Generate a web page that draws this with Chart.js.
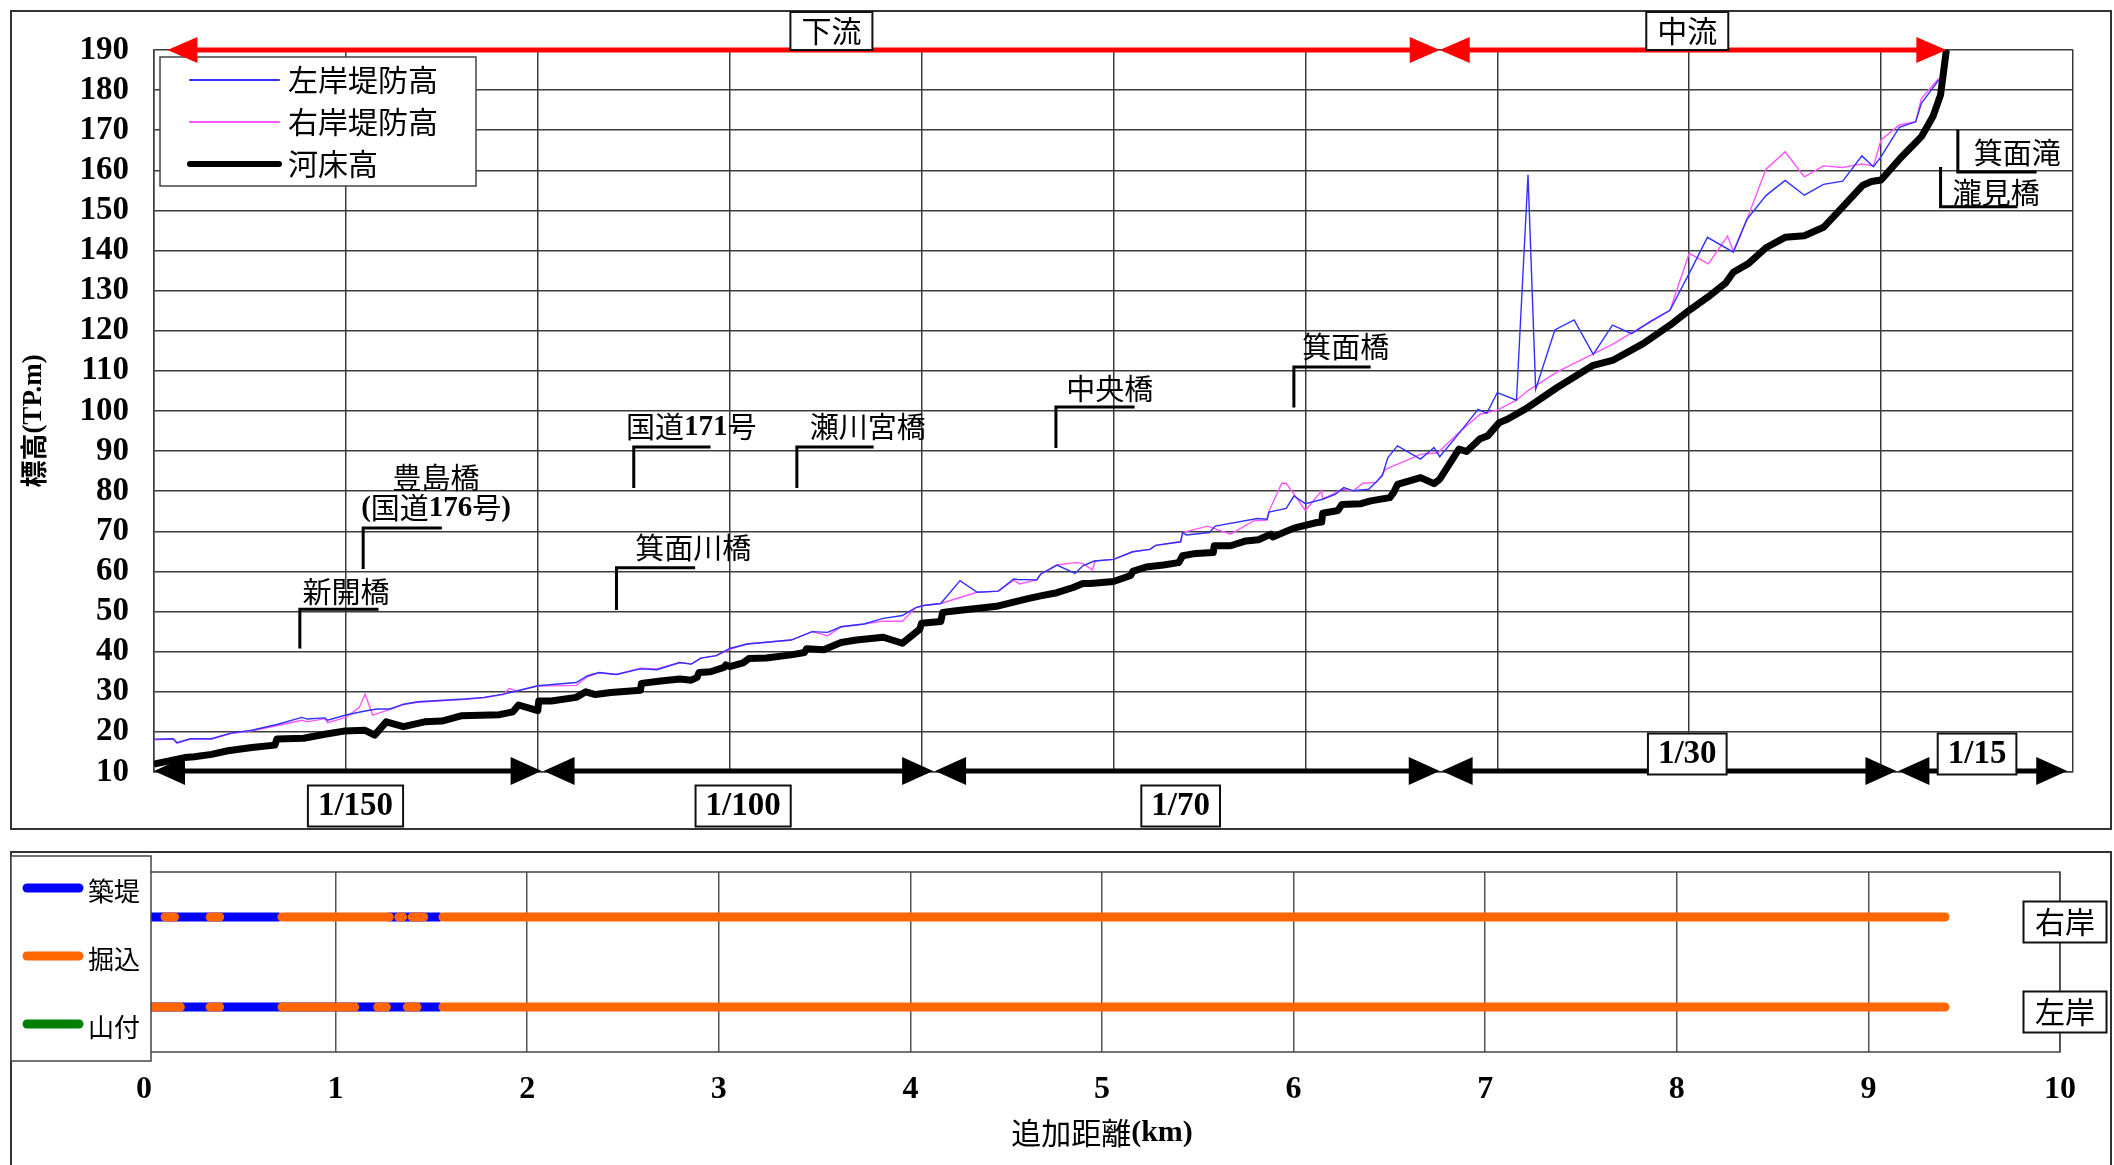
<!DOCTYPE html>
<html lang="ja">
<head>
<meta charset="utf-8">
<title>縦断図</title>
<script src="https://cdn.jsdelivr.net/npm/chart.js@4.4.1/dist/chart.umd.min.js"></script>
<style>
    html, body { margin: 0; padding: 0; background: #fff; }
    #wrap { position: relative; width: 2114px; height: 1165px; overflow: hidden; }
    canvas { position: absolute; left: 0; }
    #profileChart { top: 0; }
    #bankChart { top: 840px; }
</style>
</head>
<body>
<div id="wrap">
    <canvas id="profileChart" width="2114" height="840"></canvas>
    <canvas id="bankChart" width="2114" height="325"></canvas>
</div>
<script>
// ---- data: [distance km, elevation TP.m] ----
const bedProfile = [
    [0, 12.0], [0.16, 13.6], [0.21, 13.8], [0.30, 14.4], [0.385, 15.3], [0.51, 16.1], [0.63, 16.7], [0.64, 18.2],
    [0.78, 18.4], [0.89, 19.4], [0.99, 20.2], [1.10, 20.4], [1.15, 19.2], [1.21, 22.5], [1.30, 21.3], [1.41, 22.5],
    [1.50, 22.7], [1.60, 24.0], [1.80, 24.3], [1.87, 25.0], [1.90, 26.7], [2.00, 25.3], [2.005, 27.7], [2.07, 27.7],
    [2.20, 28.6], [2.25, 30.0], [2.30, 29.3], [2.38, 29.8], [2.535, 30.4], [2.54, 32.1], [2.64, 32.7], [2.74, 33.2],
    [2.80, 32.9], [2.83, 33.6], [2.84, 34.8], [2.90, 35.0], [2.97, 36.1], [2.98, 36.7], [3.00, 36.3], [3.07, 37.2],
    [3.10, 38.3], [3.19, 38.4], [3.32, 39.2], [3.39, 39.8], [3.40, 40.7], [3.49, 40.5], [3.58, 42.3], [3.66, 42.9],
    [3.80, 43.6], [3.90, 42.1], [3.99, 45.6], [4.00, 47.1], [4.10, 47.5], [4.11, 49.8], [4.18, 50.2], [4.39, 51.3],
    [4.49, 52.5], [4.56, 53.3], [4.62, 53.9], [4.705, 54.7], [4.79, 56.0], [4.84, 57.0], [4.88, 57.0], [5.00, 57.5],
    [5.09, 59.0], [5.10, 60.0], [5.17, 61.1], [5.26, 61.6], [5.34, 62.2], [5.36, 63.9], [5.43, 64.5], [5.52, 64.7],
    [5.525, 66.4], [5.61, 66.4], [5.69, 67.6], [5.755, 67.9], [5.82, 69.3], [5.83, 68.6], [5.94, 70.8], [6.06, 72.2],
    [6.085, 72.3], [6.09, 74.5], [6.17, 75.2], [6.19, 76.7], [6.29, 76.9], [6.34, 77.6], [6.44, 78.4], [6.46, 79.7],
    [6.48, 81.7], [6.60, 83.4], [6.67, 81.9], [6.70, 83.0], [6.80, 90.5], [6.84, 89.9], [6.91, 93.1], [6.95, 93.8],
    [7.01, 97.1], [7.05, 97.9], [7.15, 100.6], [7.31, 105.8], [7.50, 111.4], [7.60, 112.6], [7.76, 116.8], [7.90, 121.4],
    [8.00, 125.1], [8.10, 128.5], [8.19, 131.9], [8.23, 134.6], [8.31, 136.8], [8.40, 140.7], [8.50, 143.3], [8.60, 143.7],
    [8.70, 145.8], [8.80, 150.9], [8.905, 156.3], [8.95, 157.2], [9.00, 157.6], [9.10, 163.0], [9.21, 168.4], [9.27, 173.4],
    [9.31, 178.8], [9.34, 190.0]
];

const leftLevee = [
    [0, 18.2], [0.10, 18.3], [0.12, 17.3], [0.19, 18.3], [0.30, 18.3], [0.40, 19.7], [0.51, 20.4], [0.645, 21.9],
    [0.77, 23.6], [0.80, 23.2], [0.89, 23.5], [0.905, 22.9], [1.00, 24.2], [1.10, 25.2], [1.16, 25.7], [1.23, 25.7],
    [1.30, 26.9], [1.375, 27.5], [1.62, 28.2], [1.72, 28.6], [1.82, 29.4], [1.89, 30.2], [2.00, 31.5], [2.20, 32.3],
    [2.26, 34.0], [2.32, 34.8], [2.41, 34.3], [2.535, 35.7], [2.62, 35.5], [2.74, 37.3], [2.80, 36.9], [2.85, 38.4],
    [2.93, 39.0], [3.00, 40.8], [3.09, 41.9], [3.32, 42.9], [3.43, 45.0], [3.51, 44.8], [3.58, 46.2], [3.70, 46.9],
    [3.80, 48.3], [3.90, 49.0], [3.97, 51.0], [4.01, 51.5], [4.10, 52.0], [4.20, 57.7], [4.29, 54.8], [4.40, 55.1],
    [4.48, 58.1], [4.50, 58.0], [4.60, 57.9], [4.62, 59.3], [4.705, 61.6], [4.80, 59.5], [4.84, 61.4], [4.90, 62.6],
    [5.00, 63.0], [5.10, 64.9], [5.19, 65.5], [5.22, 66.5], [5.35, 67.4], [5.36, 69.7], [5.38, 69.1], [5.50, 69.7],
    [5.53, 71.3], [5.75, 73.2], [5.80, 73.0], [5.81, 74.8], [5.90, 75.7], [5.94, 78.8], [6.00, 76.9], [6.09, 78.0],
    [6.155, 79.2], [6.20, 80.9], [6.25, 80.1], [6.33, 80.5], [6.40, 83.8], [6.43, 88.4], [6.48, 91.3], [6.60, 88.0],
    [6.67, 90.9], [6.70, 88.6], [6.79, 93.8], [6.90, 100.4], [6.945, 99.4], [7.00, 104.6], [7.10, 102.7], [7.16, 158.9],
    [7.20, 105.4], [7.30, 120.2], [7.40, 122.7], [7.50, 114.1], [7.60, 121.4], [7.70, 119.3], [7.80, 122.4], [7.90, 125.1],
    [8.00, 134.3], [8.095, 143.3], [8.23, 139.6], [8.30, 147.7], [8.40, 153.7], [8.50, 157.5], [8.60, 153.8], [8.70, 156.5],
    [8.80, 157.3], [8.90, 163.6], [8.96, 160.9], [9.00, 163.4], [9.095, 170.7], [9.18, 172.1], [9.21, 176.7], [9.30, 182.5]
];

const rightLevee = [
    [0, 18.0], [0.10, 18.2], [0.12, 17.2], [0.19, 18.2], [0.30, 18.2], [0.40, 19.6], [0.51, 20.3], [0.645, 21.6],
    [0.77, 22.9], [0.80, 22.5], [0.89, 23.3], [0.905, 22.3], [1.00, 23.6], [1.07, 26.1], [1.10, 29.4], [1.14, 24.2],
    [1.23, 25.6], [1.30, 26.8], [1.375, 27.4], [1.62, 28.1], [1.72, 28.5], [1.82, 29.3], [1.85, 30.8], [1.89, 30.2],
    [2.00, 31.4], [2.20, 31.6], [2.26, 33.8], [2.32, 34.7], [2.41, 34.3], [2.535, 35.9], [2.62, 35.7], [2.74, 37.3],
    [2.80, 36.9], [2.85, 38.4], [2.93, 39.0], [3.00, 40.6], [3.09, 41.9], [3.32, 42.9], [3.43, 45.0], [3.51, 44.0],
    [3.58, 46.2], [3.70, 46.9], [3.80, 47.6], [3.90, 47.6], [3.97, 51.0], [4.01, 51.5], [4.10, 52.0], [4.20, 53.5],
    [4.29, 54.8], [4.40, 55.1], [4.48, 57.8], [4.51, 56.9], [4.60, 57.9], [4.62, 59.3], [4.705, 61.6], [4.80, 62.2],
    [4.84, 62.0], [4.89, 60.4], [4.905, 62.6], [5.00, 63.0], [5.10, 64.9], [5.19, 65.5], [5.22, 66.5], [5.35, 67.4],
    [5.36, 69.7], [5.49, 71.3], [5.61, 69.3], [5.73, 72.6], [5.80, 72.8], [5.81, 75.0], [5.877, 82.0], [5.90, 82.0],
    [6.00, 75.2], [6.085, 80.1], [6.09, 78.0], [6.14, 79.2], [6.19, 80.5], [6.25, 80.1], [6.30, 82.0], [6.37, 82.2],
    [6.42, 85.5], [6.46, 86.3], [6.60, 89.2], [6.69, 89.6], [6.79, 94.2], [6.91, 99.2], [7.00, 100.2], [7.10, 102.7],
    [7.16, 105.1], [7.31, 109.7], [7.40, 111.9], [7.60, 116.6], [7.71, 119.8], [7.80, 122.2], [7.90, 125.1], [8.00, 139.3],
    [8.10, 136.7], [8.20, 143.6], [8.23, 139.8], [8.30, 147.7], [8.40, 160.3], [8.50, 164.6], [8.60, 158.4], [8.70, 161.1],
    [8.80, 160.7], [8.90, 161.6], [8.96, 161.1], [9.00, 167.6], [9.095, 171.3], [9.18, 172.1], [9.21, 177.9], [9.30, 182.9]
];

// reach sections (red arrows at top)
const reachNames = ['下流', '中流'];
const reachFrom = [0.07, 6.70];
const reachTo = [6.70, 9.34];
const reachLabelAt = [3.53, 7.99];

// bed slope sections (black arrows at bottom)
const slopeNames = ['1/150', '1/100', '1/70', '1/30', '1/15'];
const slopeFrom = [0, 2.03, 4.07, 6.71, 9.09];
const slopeTo = [2.02, 4.06, 6.70, 9.08, 9.97];
const slopeLabelAt = [1.05, 3.07, 5.35, 7.99, 9.50];
const slopeLabelAbove = [false, false, false, true, true];

// bridges: [name, km, elevation]  leaders: [km, from elev, to elev, end km]
const bridgeLabels = [
    ['新開橋', 1.00, 55.0], ['豊島橋', 1.47, 83.4], ['(国道176号)', 1.47, 75.7], ['箕面川橋', 2.81, 65.8],
    ['国道171号', 2.80, 96.0], ['瀬川宮橋', 3.72, 96.0], ['中央橋', 4.98, 105.6], ['箕面橋', 6.21, 116.0],
    ['箕面滝', 9.71, 164.3], ['瀧見橋', 9.60, 154.4]
];
const bridgeLeaders = [
    [0.76, 40.8, 50.6, 1.17], [1.09, 60.6, 70.8, 1.50], [2.41, 50.4, 60.9, 2.82], [2.50, 80.8, 91.0, 2.90],
    [3.35, 80.8, 91.0, 3.75], [4.70, 90.8, 101.0, 5.11], [5.94, 100.9, 111.0, 6.34], [9.40, 170.1, 159.6, 9.81],
    [9.31, 160.8, 150.9, 9.71]
];

// bank type segments [from km, to km]
const rightEmbank = [[0, 0.70], [1.28, 1.54]];
const rightDug = [[0.11, 0.16], [0.345, 0.395], [0.72, 1.28], [1.33, 1.35], [1.40, 1.46], [1.56, 9.40]];
const leftEmbank = [[0, 1.54]];
const leftDug = [[0, 0.19], [0.345, 0.395], [0.72, 1.10], [1.22, 1.265], [1.375, 1.425], [1.56, 9.40]];
const hillside = [];

const bankRows = ['右岸', '左岸'];
const bankRowValue = [3, 1];

const GRID = '#3c3c3c';
const SERIF = '"Liberation Serif", serif';
const JP = '"Noto Sans CJK JP", sans-serif';

// text with latin parts in bold serif and kanji in gothic
function drawMixed(ctx, text, x, y, size, align, cjkBold) {
    const runs = text.match(/[\x20-\x7e]+|[^\x20-\x7e]+/g) || [];
    const fontFor = r => /[\x20-\x7e]/.test(r[0])
        ? `bold ${size}px ${SERIF}`
        : `${cjkBold ? 'bold ' : ''}${size}px ${JP}`;
    let total = 0;
    const widths = runs.map(r => {
        ctx.font = fontFor(r);
        const w = ctx.measureText(r).width;
        total += w;
        return w;
    });
    let cx = align === 'left' ? x : (align === 'right' ? x - total : x - total / 2);
    ctx.textAlign = 'left';
    ctx.textBaseline = 'middle';
    runs.forEach((r, i) => {
        ctx.font = fontFor(r);
        ctx.fillText(r, cx, y);
        cx += widths[i];
    });
    return total;
}

function boxedText(ctx, text, cx, cy, w, h, size) {
    ctx.fillStyle = '#fff';
    ctx.fillRect(cx - w / 2, cy - h / 2, w, h);
    ctx.strokeStyle = '#111';
    ctx.lineWidth = 2;
    ctx.strokeRect(cx - w / 2, cy - h / 2, w, h);
    ctx.fillStyle = '#000';
    drawMixed(ctx, text, cx, cy, size, 'center');
}

function arrowLine(ctx, x1, x2, y, color, width, len, half) {
    ctx.strokeStyle = color;
    ctx.fillStyle = color;
    ctx.lineWidth = width;
    ctx.beginPath();
    ctx.moveTo(x1 + len - 2, y);
    ctx.lineTo(x2 - len + 2, y);
    ctx.stroke();
    ctx.beginPath();
    ctx.moveTo(x1, y);
    ctx.lineTo(x1 + len, y - half);
    ctx.lineTo(x1 + len, y + half);
    ctx.closePath();
    ctx.fill();
    ctx.beginPath();
    ctx.moveTo(x2, y);
    ctx.lineTo(x2 - len, y - half);
    ctx.lineTo(x2 - len, y + half);
    ctx.closePath();
    ctx.fill();
}

const profileDecor = {
    id: 'profileDecor',
    afterDraw(chart) {
        const { ctx, chartArea: area, scales: { x, y } } = chart;
        ctx.save();

        // outer frame
        ctx.strokeStyle = '#333';
        ctx.lineWidth = 2;
        ctx.strokeRect(11, 11, 2100, 818);

        // legend
        const lx = area.left + 6, ly = area.top + 7;
        ctx.fillStyle = '#fff';
        ctx.fillRect(lx, ly, 316, 129);
        ctx.strokeStyle = '#444';
        ctx.lineWidth = 1.5;
        ctx.strokeRect(lx, ly, 316, 129);
        const legendOrder = [1, 2, 0];
        legendOrder.forEach((di, i) => {
            const ds = chart.data.datasets[di];
            const ry = ly + 23 + i * 42;
            ctx.strokeStyle = ds.borderColor;
            ctx.lineWidth = di === 0 ? 6 : 2;
            ctx.lineCap = 'round';
            ctx.beginPath();
            ctx.moveTo(lx + 30, ry);
            ctx.lineTo(lx + 119, ry);
            ctx.stroke();
            ctx.fillStyle = '#000';
            drawMixed(ctx, ds.label, lx + 128, ry, 30, 'left');
        });
        ctx.lineCap = 'butt';

        // reach arrows
        const ry = y.getPixelForValue(190);
        reachNames.forEach((name, i) => {
            arrowLine(ctx, x.getPixelForValue(reachFrom[i]), x.getPixelForValue(reachTo[i]), ry, '#ff0000', 5, 30, 13);
        });
        reachNames.forEach((name, i) => {
            boxedText(ctx, name, x.getPixelForValue(reachLabelAt[i]), ry - 19, 82, 38, 30);
        });

        // slope arrows
        const sy = y.getPixelForValue(10) - 1;
        slopeNames.forEach((name, i) => {
            arrowLine(ctx, x.getPixelForValue(slopeFrom[i]), x.getPixelForValue(slopeTo[i]), sy, '#000', 5, 31, 14);
        });
        slopeNames.forEach((name, i) => {
            ctx.font = `bold 33px ${SERIF}`;
            const w = ctx.measureText(name).width + 20;
            const cy = slopeLabelAbove[i] ? sy - 17 : sy + 35;
            boxedText(ctx, name, x.getPixelForValue(slopeLabelAt[i]), cy, w, 41, 33);
        });

        // bridge leaders and names
        ctx.strokeStyle = '#000';
        ctx.lineWidth = 3;
        bridgeLeaders.forEach(([km, from, to, end]) => {
            ctx.beginPath();
            ctx.moveTo(x.getPixelForValue(km), y.getPixelForValue(from));
            ctx.lineTo(x.getPixelForValue(km), y.getPixelForValue(to));
            ctx.lineTo(x.getPixelForValue(end), y.getPixelForValue(to));
            ctx.stroke();
        });
        ctx.fillStyle = '#000';
        bridgeLabels.forEach(([name, km, elev]) => {
            drawMixed(ctx, name, x.getPixelForValue(km), y.getPixelForValue(elev), 29, 'center');
        });

        // y title
        ctx.translate(34, (area.top + area.bottom) / 2 + 10);
        ctx.rotate(-Math.PI / 2);
        drawMixed(ctx, '標高(TP.m)', 0, 0, 27, 'center', true);
        ctx.restore();
    }
};

const toPoints = arr => arr.map(([km, v]) => ({ x: km, y: v }));

new Chart(document.getElementById('profileChart'), {
    type: 'line',
    data: {
        datasets: [
            { label: '河床高', data: toPoints(bedProfile), borderColor: '#000', borderWidth: 7, order: 0, borderJoinStyle: 'round' },
            { label: '左岸堤防高', data: toPoints(leftLevee), borderColor: '#3030ff', borderWidth: 1.4, order: 1 },
            { label: '右岸堤防高', data: toPoints(rightLevee), borderColor: '#ff55ff', borderWidth: 1.4, order: 2 }
        ]
    },
    options: {
        responsive: false,
        animation: false,
        events: [],
        layout: { padding: { top: 50, right: 41, bottom: 68, left: 0 } },
        elements: { point: { radius: 0 }, line: { tension: 0 } },
        plugins: { legend: { display: false }, tooltip: { enabled: false } },
        scales: {
            x: {
                type: 'linear', min: 0, max: 10,
                ticks: { display: false, stepSize: 1 },
                grid: { color: GRID, lineWidth: 1.5, drawTicks: false },
                border: { color: GRID, width: 1.5 },
                afterFit: s => { s.height = 0; }
            },
            y: {
                type: 'linear', min: 10, max: 190,
                ticks: {
                    stepSize: 10, autoSkip: false, padding: 25, color: '#000',
                    font: { family: SERIF, size: 33, weight: 'bold' }
                },
                grid: { color: GRID, lineWidth: 1.5, drawTicks: false },
                border: { color: GRID, width: 1.5 },
                afterFit: s => { s.width = 154; }
            }
        }
    },
    plugins: [profileDecor]
});

// ---- bank type chart ----
function segmentPoints(segs, row) {
    const pts = [];
    segs.forEach(([a, b]) => {
        pts.push({ x: a, y: row }, { x: b, y: row }, { x: b, y: null });
    });
    return pts;
}

const BLUE = '#0000ff', ORANGE = '#ff6600', GREEN = '#008000';

const bankDecor = {
    id: 'bankDecor',
    afterDraw(chart) {
        const { ctx, chartArea: area, scales: { x, y } } = chart;
        ctx.save();

        // plot border
        ctx.strokeStyle = '#444';
        ctx.lineWidth = 1.5;
        ctx.strokeRect(area.left, area.top, area.right - area.left, area.bottom - area.top);

        // frame
        ctx.strokeStyle = '#333';
        ctx.lineWidth = 2;
        ctx.beginPath();
        ctx.moveTo(11, 400);
        ctx.lineTo(11, 12);
        ctx.lineTo(2111, 12);
        ctx.lineTo(2111, 400);
        ctx.stroke();

        // legend
        ctx.fillStyle = '#fff';
        ctx.fillRect(11, 16, 140, 205);
        ctx.strokeStyle = '#444';
        ctx.lineWidth = 1.5;
        ctx.strokeRect(11, 16, 140, 205);
        const items = [['築堤', BLUE], ['掘込', ORANGE], ['山付', GREEN]];
        items.forEach(([name, color], i) => {
            const ly = 48 + i * 68;
            ctx.strokeStyle = color;
            ctx.lineWidth = 9;
            ctx.lineCap = 'round';
            ctx.beginPath();
            ctx.moveTo(27, ly);
            ctx.lineTo(79, ly);
            ctx.stroke();
            ctx.fillStyle = '#000';
            drawMixed(ctx, name, 88, ly + 3, 26, 'left');
        });
        ctx.lineCap = 'butt';

        // bank name boxes
        bankRows.forEach((name, i) => {
            boxedText(ctx, name, area.right + 5, y.getPixelForValue(bankRowValue[i]) + 5, 83, 41, 30);
        });

        // x title
        ctx.fillStyle = '#000';
        drawMixed(ctx, '追加距離(km)', (area.left + area.right) / 2, 293, 30, 'center');
        ctx.restore();
    }
};

new Chart(document.getElementById('bankChart'), {
    type: 'line',
    data: {
        datasets: [
            { label: '掘込', data: segmentPoints(rightDug, bankRowValue[0]), borderColor: ORANGE, order: 0 },
            { label: '掘込', data: segmentPoints(leftDug, bankRowValue[1]), borderColor: ORANGE, order: 0 },
            { label: '築堤', data: segmentPoints(rightEmbank, bankRowValue[0]), borderColor: BLUE, order: 1 },
            { label: '築堤', data: segmentPoints(leftEmbank, bankRowValue[1]), borderColor: BLUE, order: 1 },
            { label: '山付', data: segmentPoints(hillside, bankRowValue[0]), borderColor: GREEN, order: 2 }
        ]
    },
    options: {
        responsive: false,
        animation: false,
        events: [],
        layout: { padding: { top: 32, right: 54, bottom: 53, left: 144 } },
        elements: {
            point: { radius: 0 },
            line: { tension: 0, borderWidth: 9, borderCapStyle: 'round' }
        },
        spanGaps: false,
        plugins: { legend: { display: false }, tooltip: { enabled: false } },
        scales: {
            x: {
                type: 'linear', min: 0, max: 10,
                ticks: {
                    stepSize: 1, autoSkip: false, padding: 19, color: '#000',
                    font: { family: SERIF, size: 32, weight: 'bold' }
                },
                grid: { color: '#555', lineWidth: 1.5, drawTicks: false },
                border: { display: false },
                afterFit: s => { s.height = 60; }
            },
            y: { type: 'linear', display: false, min: 0, max: 4 }
        }
    },
    plugins: [bankDecor]
});
</script>
</body>
</html>
